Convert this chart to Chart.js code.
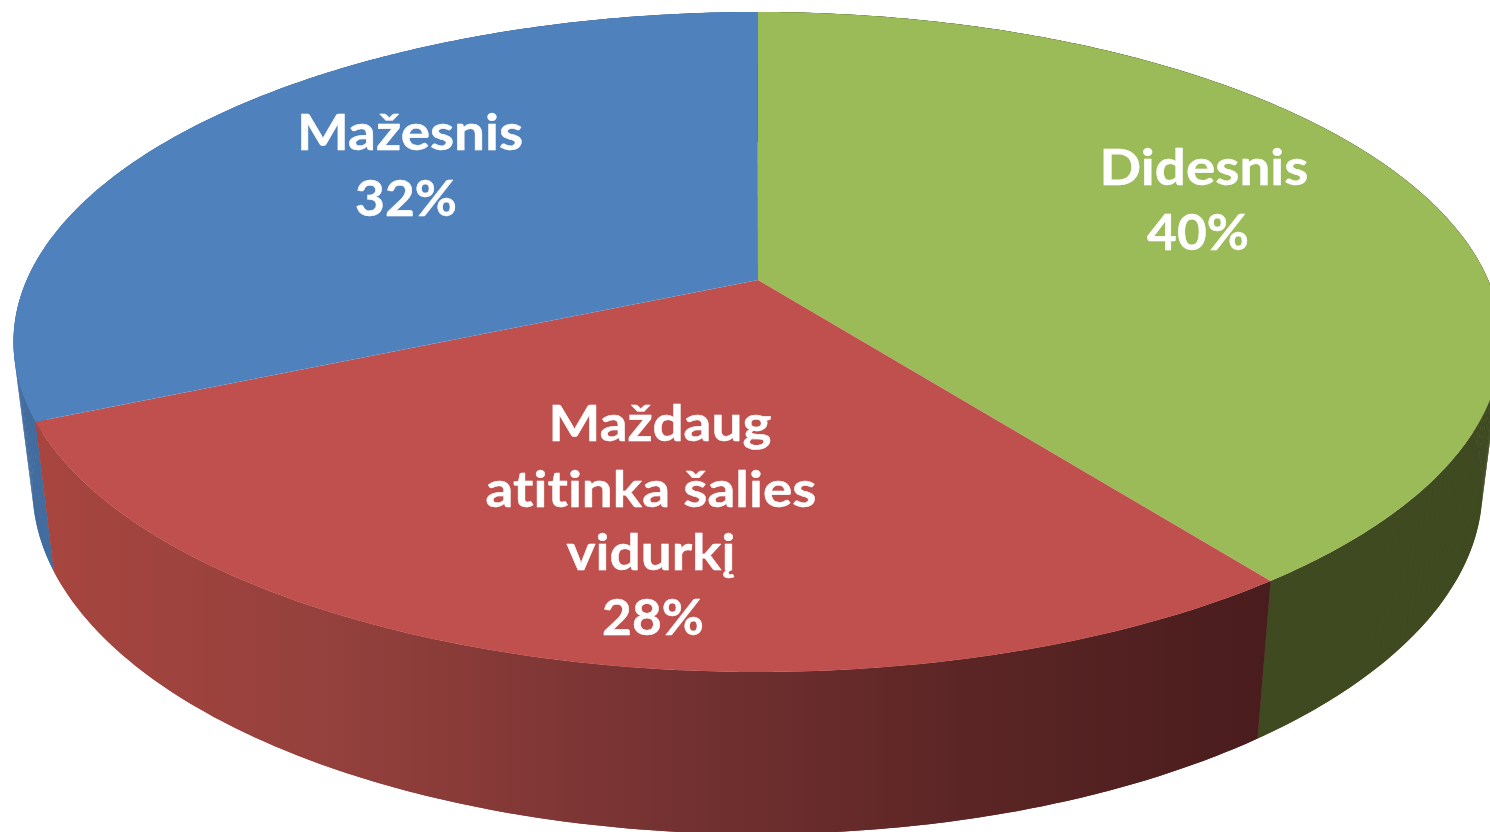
<!DOCTYPE html>
<html lang="lt">
<head>
<meta charset="utf-8">
<title>Pie chart</title>
<script src="https://cdn.jsdelivr.net/npm/chart.js@4"></script>
<style>
html,body{margin:0;padding:0;background:#fff;overflow:hidden}
#wrap{position:absolute;left:0;top:0;width:1490px;height:832px}
canvas{display:block;filter:blur(.7px)}
</style>
</head>
<body>
<div id="wrap"><canvas id="c" width="1490" height="832"></canvas></div>
<script>
// ---- data ----
const categories = ["Didesnis", "Maždaug atitinka šalies vidurkį", "Mažesnis"];
const values = [40, 28, 32];
const labelLines = [["Didesnis"], ["Maždaug", "atitinka šalies", "vidurkį"], ["Mažesnis"]];
const topColors = ["#9BBB59", "#C0504D", "#4F81BD"];
const wallColors = ["#3F4A21", null, "#436C9F"];

// ---- presentation geometry ----
const topRim = {cx: 757.5, cy: 342, a: 744, b: 330};
const bottomRim = {cx: 757.5, cy: 488, a: 725, b: 346};
const tilt = 0.205;
const apex = {x: 758, y: 280};
const labelWidthScale = 1.12;
const percentWidthScale = 1.05;
const labelAnchors = [
  {lines: [[1204, 185]], pct: [1198, 250]},
  {lines: [[660, 441], [651, 507], [651, 570]], pct: [653, 635]},
  {lines: [[410, 150]], pct: [406, 216]}
];

function project(rim, angle) {
  const th = angle + Math.PI / 2;
  const u = Math.sin(th), v = Math.cos(th);
  const d = 1 + tilt * v;
  return {
    x: rim.cx + rim.a * u * Math.sqrt(1 - tilt * tilt) / d,
    y: rim.cy - rim.b * (v + tilt) / d
  };
}
function rimPath(ctx, rim, a0, a1, first) {
  const n = Math.max(8, Math.ceil(Math.abs(a1 - a0) * 120));
  for (let i = 0; i <= n; i++) {
    const p = project(rim, a0 + (a1 - a0) * i / n);
    if (i === 0 && first) ctx.moveTo(p.x, p.y); else ctx.lineTo(p.x, p.y);
  }
}

// the library's arc elements keep their data-driven angles; they render in perspective
Chart.ArcElement.prototype.draw = function (ctx) {
  const s = this.getProps(["startAngle", "endAngle"], true);
  ctx.save();
  ctx.beginPath();
  ctx.moveTo(apex.x, apex.y);
  rimPath(ctx, topRim, s.startAngle, s.endAngle, false);
  ctx.closePath();
  ctx.fillStyle = this.options.backgroundColor;
  ctx.fill();
  ctx.restore();
};

const walls = {
  id: "walls",
  beforeDatasetsDraw(chart) {
    const ctx = chart.ctx;
    const arcs = chart.getDatasetMeta(0).data;
    [2, 0, 1].forEach(i => {
      const s = arcs[i].getProps(["startAngle", "endAngle"], true);
      let fill = wallColors[i];
      if (!fill) {
        fill = ctx.createLinearGradient(37, 0, 1273, 0);
        fill.addColorStop(0, "#A8453F");
        fill.addColorStop(0.25, "#93403C");
        fill.addColorStop(0.5, "#763232");
        fill.addColorStop(0.75, "#5C2525");
        fill.addColorStop(1, "#491C1D");
      }
      ctx.save();
      ctx.fillStyle = fill;
      // whole band between the two rims
      ctx.beginPath();
      rimPath(ctx, topRim, s.startAngle, s.endAngle, true);
      rimPath(ctx, bottomRim, s.endAngle, s.startAngle, false);
      ctx.closePath();
      ctx.fill();
      // short strips fill the silhouette where the rims cross
      const n = Math.ceil((s.endAngle - s.startAngle) * 60);
      for (let k = 0; k < n; k++) {
        const a0 = s.startAngle + (s.endAngle - s.startAngle) * k / n;
        const a1 = s.startAngle + (s.endAngle - s.startAngle) * (k + 1) / n;
        const p = [project(topRim, a0), project(topRim, a1), project(bottomRim, a1), project(bottomRim, a0)];
        ctx.beginPath();
        p.forEach((q, m) => m ? ctx.lineTo(q.x, q.y) : ctx.moveTo(q.x, q.y));
        ctx.closePath();
        ctx.fill();
      }
      ctx.restore();
    });
  }
};

const sliceLabels = {
  id: "sliceLabels",
  afterDatasetsDraw(chart) {
    const ctx = chart.ctx;
    const put = (text, pos, widthScale) => {
      ctx.save();
      ctx.translate(pos[0], pos[1]);
      ctx.scale(widthScale, 1);
      ctx.fillText(text, 0, 0);
      ctx.strokeText(text, 0, 0);
      ctx.restore();
    };
    ctx.save();
    ctx.fillStyle = "#FFFFFF";
    ctx.strokeStyle = "#FFFFFF";
    ctx.lineWidth = 0.4;
    ctx.lineJoin = "round";
    ctx.font = "bold 49px Lato, Carlito, sans-serif";
    ctx.letterSpacing = "0.01px"; // keeps "ti" as two separate letters
    ctx.textAlign = "center";
    ctx.textBaseline = "alphabetic";
    labelLines.forEach((lines, i) => {
      const anchor = labelAnchors[i];
      lines.forEach((text, j) => put(text, anchor.lines[j], labelWidthScale));
      put(values[i] + "%", anchor.pct, percentWidthScale);
    });
    ctx.restore();
  }
};

new Chart(document.getElementById("c"), {
  type: "pie",
  data: {
    labels: categories,
    datasets: [{data: values, backgroundColor: topColors, borderWidth: 0}]
  },
  options: {
    responsive: false,
    animation: false,
    events: [],
    plugins: {legend: {display: false}, tooltip: {enabled: false}, title: {display: false}}
  },
  plugins: [walls, sliceLabels]
});
</script>
</body>
</html>
